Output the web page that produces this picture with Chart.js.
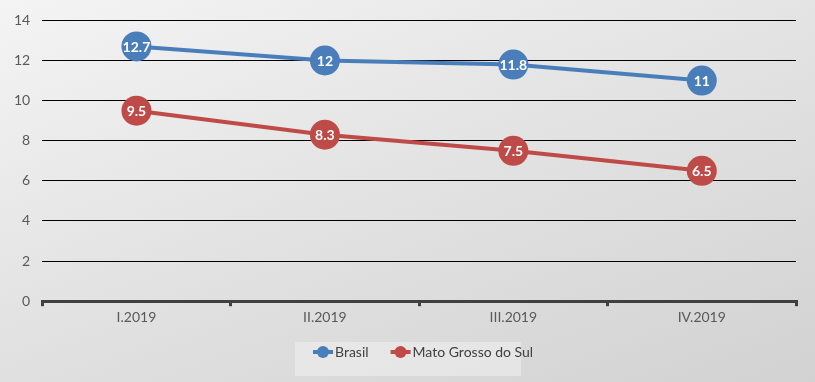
<!DOCTYPE html>
<html>
<head>
<meta charset="utf-8">
<script src="https://cdn.jsdelivr.net/npm/chart.js@4/dist/chart.umd.min.js"></script>
<style>
  html, body { margin: 0; padding: 0; }
  #wrap {
    width: 815px; height: 382px; position: relative;
    background: linear-gradient(160deg, #f4f4f4 0%, #e2e2e2 50%, #d2d2d2 100%);
  }
</style>
</head>
<body>
<div id="wrap"><canvas id="chart" width="815" height="382"></canvas></div>
<script>
const categories = ["I.2019", "II.2019", "III.2019", "IV.2019"];
const brasil = [12.7, 12, 11.8, 11];
const matoGrosso = [9.5, 8.3, 7.5, 6.5];
const yTicks = [0, 2, 4, 6, 8, 10, 12, 14];

const FONT = "Lato, 'Open Sans', sans-serif";

// white value labels drawn inside each marker
const pointLabels = {
  id: "pointLabels",
  afterDatasetsDraw(chart) {
    const ctx = chart.ctx;
    ctx.save();
    ctx.fillStyle = "#ffffff";
    ctx.font = "bold 14px " + FONT;
    ctx.textAlign = "center";
    ctx.textBaseline = "middle";
    chart.data.datasets.forEach((ds, i) => {
      chart.getDatasetMeta(i).data.forEach((pt, j) => {
        ctx.fillText(String(ds.data[j]), pt.x, pt.y + 1);
      });
    });
    ctx.restore();
  }
};

// Excel-like legend box below the chart
const boxLegend = {
  id: "boxLegend",
  afterDraw(chart) {
    const ctx = chart.ctx;
    const x = 295, y = 342, w = 226, h = 34;
    ctx.save();
    ctx.fillStyle = "rgba(240,240,240,0.55)";
    ctx.fillRect(x, y, w, h);
    ctx.font = "14px " + FONT;
    ctx.textBaseline = "middle";
    let cx = x + 18;
    const cy = y + 10;
    chart.data.datasets.forEach(ds => {
      ctx.strokeStyle = ds.borderColor;
      ctx.lineWidth = 4;
      ctx.beginPath();
      ctx.moveTo(cx, cy);
      ctx.lineTo(cx + 20, cy);
      ctx.stroke();
      ctx.fillStyle = ds.borderColor;
      ctx.beginPath();
      ctx.arc(cx + 10, cy, 6, 0, Math.PI * 2);
      ctx.fill();
      ctx.fillStyle = "#404040";
      ctx.fillText(ds.label, cx + 22, cy);
      cx += 22 + ctx.measureText(ds.label).width + 22;
    });
    ctx.restore();
  }
};

new Chart(document.getElementById("chart"), {
  type: "line",
  data: {
    labels: categories,
    datasets: [
      {
        label: "Brasil",
        data: brasil,
        borderColor: "#4a7ebb",
        backgroundColor: "#4a7ebb",
        borderWidth: 4,
        pointRadius: 15,
        pointHoverRadius: 15,
        pointBorderWidth: 0,
        tension: 0
      },
      {
        label: "Mato Grosso do Sul",
        data: matoGrosso,
        borderColor: "#be4b48",
        backgroundColor: "#be4b48",
        borderWidth: 4,
        pointRadius: 15,
        pointHoverRadius: 15,
        pointBorderWidth: 0,
        tension: 0
      }
    ]
  },
  options: {
    responsive: false,
    animation: false,
    layout: { padding: { left: 2, right: 19, top: 11, bottom: 53 } },
    plugins: {
      legend: { display: false },
      tooltip: { enabled: false }
    },
    scales: {
      x: {
        offset: true,
        grid: {
          display: true,
          offset: true,
          drawOnChartArea: false,
          drawTicks: true,
          tickLength: 5,
          color: "#404040",
          lineWidth: 3
        },
        border: { display: true, color: "#404040", width: 3 },
        ticks: { color: "#595959", font: { family: FONT, size: 14 }, padding: 3 }
      },
      y: {
        min: 0,
        max: 14,
        afterBuildTicks(axis) { axis.ticks = yTicks.map(v => ({ value: v })); },
        grid: { color: "#000000", lineWidth: 1, drawTicks: false },
        border: { display: false },
        ticks: { color: "#595959", font: { family: FONT, size: 14 }, padding: 12 }
      }
    }
  },
  plugins: [pointLabels, boxLegend]
});
</script>
</body>
</html>
